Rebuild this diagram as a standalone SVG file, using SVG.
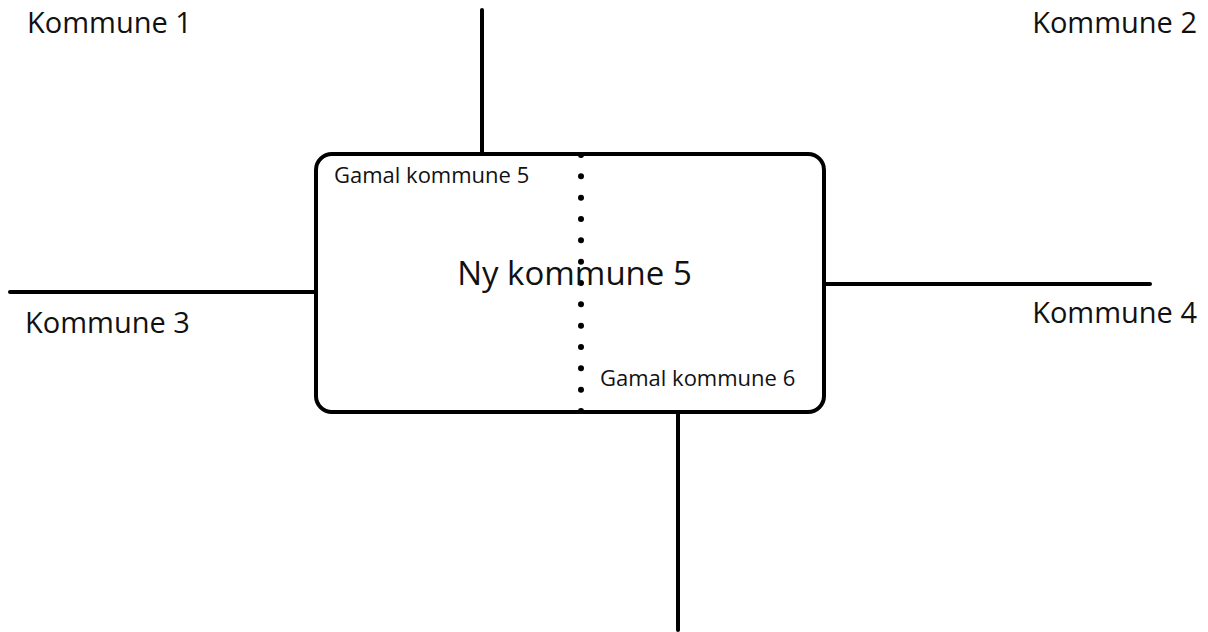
<svg xmlns="http://www.w3.org/2000/svg" width="1208" height="632" viewBox="0 0 1208 632">
<style>
.ln{stroke:#000;stroke-width:4;fill:none;stroke-linecap:round}
.t{font-family:"Open Sans","Liberation Sans",sans-serif;fill:#111}
.k{font-size:29px}
.g{font-size:22px}
.n{font-size:33px}
</style>
<rect width="1208" height="632" fill="#fff"/>
<g id="connectors">
<line class="ln" x1="482" y1="10" x2="482" y2="154"/>
<line class="ln" x1="10" y1="292" x2="316" y2="292"/>
<line class="ln" x1="824" y1="284" x2="1150" y2="284"/>
<line class="ln" x1="678" y1="412" x2="678" y2="630"/>
</g>
<g id="ny-kommune-5">
<rect x="316" y="154" width="508" height="258" rx="16" ry="16" fill="none" stroke="#000" stroke-width="4"/>
<line x1="581" y1="155" x2="581" y2="411" stroke="#000" stroke-width="6" stroke-linecap="round" stroke-dasharray="0 21.33"/>
<text class="t n" x="574.5" y="285" text-anchor="middle">Ny kommune 5</text>
<text class="t g" x="334" y="183">Gamal kommune 5</text>
<text class="t g" x="600" y="386">Gamal kommune 6</text>
</g>
<g id="kommune-1"><text class="t k" x="27" y="33">Kommune 1</text></g>
<g id="kommune-2"><text class="t k" x="1197" y="33" text-anchor="end">Kommune 2</text></g>
<g id="kommune-3"><text class="t k" x="25" y="333">Kommune 3</text></g>
<g id="kommune-4"><text class="t k" x="1197" y="323" text-anchor="end">Kommune 4</text></g>
</svg>
